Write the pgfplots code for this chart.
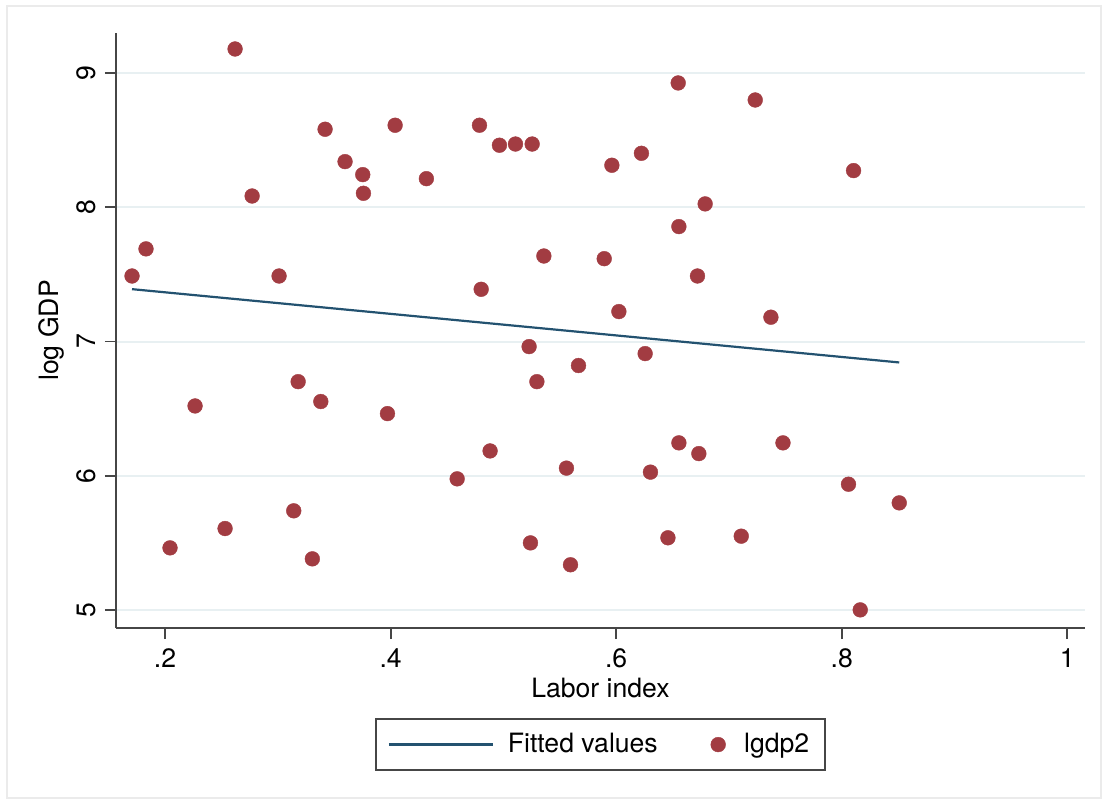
\documentclass[border=0pt]{standalone}
\usepackage{fontspec}
\setmainfont{TeX Gyre Heros}
\usepackage{pgfplots}
\pgfplotsset{compat=1.18}
\definecolor{stmaroon}{RGB}{162,60,66}
\definecolor{stnavy}{RGB}{35,82,112}
\definecolor{stgrid}{RGB}{232,240,242}
\definecolor{staxis}{RGB}{70,70,70}
\pgfplotsset{fitline legend/.style={legend image code/.code={\draw[##1] (0pt,0pt) -- (52pt,0pt);}},
  dot legend/.style={legend image code/.code={\draw[##1] plot coordinates {(0pt,0pt)};\path[draw=none,fill=none] (0pt,0pt) -- (6pt,0pt);}}}

\pgfplotstableread{
x y
0.1707 7.488
0.1831 7.690
0.2621 9.179
0.2772 8.084
0.3011 7.488
0.2266 6.520
0.2044 5.463
0.2532 5.607
0.3180 6.701
0.3381 6.553
0.3141 5.739
0.3306 5.381
0.3972 6.463
0.3419 8.581
0.3596 8.340
0.3753 8.243
0.3759 8.104
0.4040 8.611
0.4317 8.213
0.4788 8.611
0.4965 8.462
0.5107 8.471
0.5255 8.471
0.4803 7.389
0.5359 7.637
0.5228 6.962
0.5297 6.701
0.5666 6.821
0.4590 5.977
0.4882 6.185
0.5559 6.057
0.5240 5.500
0.5595 5.337
0.5894 7.617
0.5962 8.313
0.6224 8.402
0.6024 7.223
0.6257 6.910
0.6304 6.027
0.6550 8.926
0.6556 7.856
0.6789 8.025
0.6721 7.488
0.6556 6.245
0.6733 6.165
0.6459 5.538
0.7233 8.799
0.8105 8.273
0.7372 7.181
0.7479 6.245
0.7109 5.550
0.8164 5.001
0.8510 5.798
0.8060 5.937
}\lgdp

\begin{document}
\fontsize{13.3}{16}\selectfont
\begin{tikzpicture}
\useasboundingbox (-58pt,-88pt) rectangle (496pt,314pt);
\draw[black!8, line width=0.6pt] (-54.5pt,-85pt) rectangle (492.5pt,311pt);
\begin{axis}[
  scale only axis, width=484.5pt, height=297.5pt,
  xmin=0.1565, xmax=1.0157, ymin=4.866, ymax=9.298,
  axis x line*=bottom, axis y line*=left,
  axis line style={staxis, line width=0.9pt, -},
  xtick={0.2,0.4,0.6,0.8,1}, xticklabels={.2,.4,.6,.8,1},
  ytick={5,6,7,8,9}, yticklabels={5,6,7,8,9},
  /pgf/number format/assume math mode=true,
  tick align=outside, major tick length=5.5pt,
  tick style={staxis, line width=0.9pt},
  ymajorgrids, major grid style={stgrid, line width=1pt},
  yticklabel style={rotate=90, anchor=south},
  xlabel={Labor index}, ylabel={log GDP},
  xlabel style={at={(axis description cs:0.5,-0.1008)}, anchor=center},
  ylabel style={at={(axis description cs:-0.0664,0.5)}, anchor=center},
  legend columns=2,
  legend style={at={(0.5,-0.15126)}, anchor=north, draw=staxis, line width=0.9pt,
    inner xsep=6pt, inner ysep=5pt,
    /tikz/every odd column/.append style={column sep=5pt},
    /tikz/every even column/.append style={column sep=24.5pt}},
]
\addplot[stnavy, line width=1.1pt, no markers, fitline legend]
  coordinates {(0.1707,7.390) (0.8510,6.844)};
\addlegendentry{Fitted values}
\addplot[only marks, mark=*, mark size=3.7pt, dot legend,
  mark options={fill=stmaroon, draw=stmaroon, line width=0.2pt}]
  table[x=x, y=y] {\lgdp};
\addlegendentry{lgdp2}
\end{axis}
\end{tikzpicture}
\end{document}
